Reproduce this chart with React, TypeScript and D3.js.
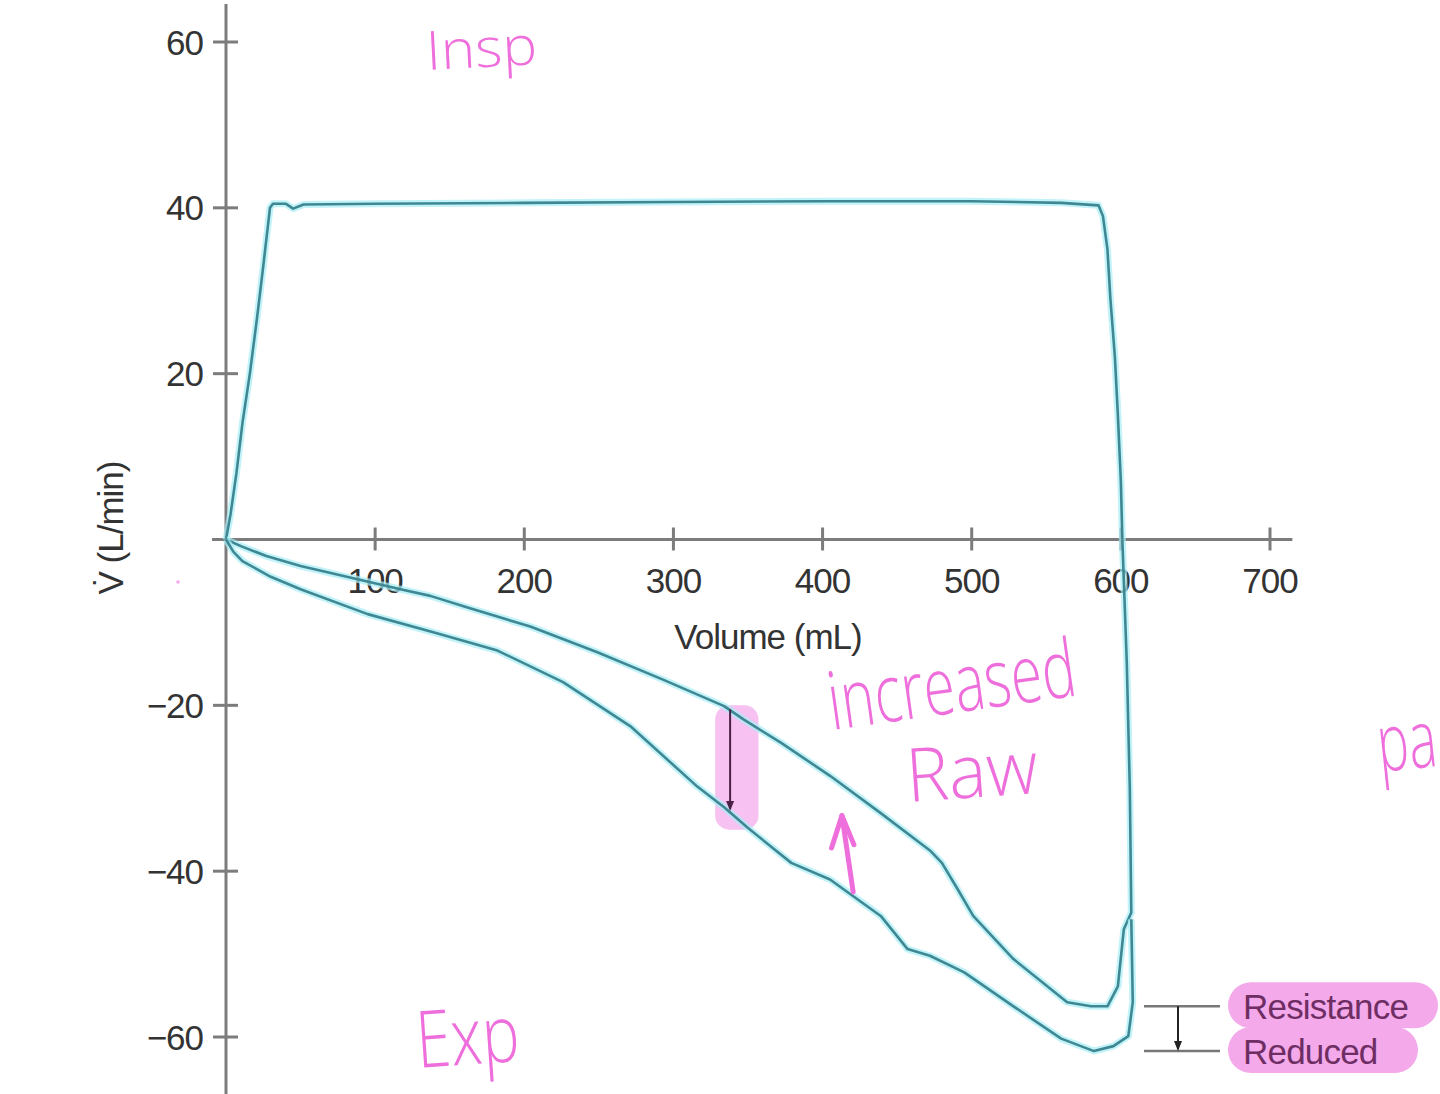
import React from "react";
import * as d3 from "d3";

const xTicks = [100, 200, 300, 400, 500, 600, 700];
const yTicks = [60, 40, 20, -20, -40, -60];

const inspVol = [0, 3, 7, 11, 16, 21, 25, 29.5, 31.5, 40, 45, 52, 100, 200, 300, 400, 500, 560, 585, 588, 591, 593, 596, 598, 600, 601];
const inspFlow = [0, 3, 8, 14, 20, 27, 33, 40, 40.5, 40.5, 39.9, 40.4, 40.5, 40.6, 40.7, 40.8, 40.8, 40.6, 40.3, 39, 35, 29, 22, 15, 7, 0];

const resVol = [0, 10, 27, 50, 81, 117, 137, 162, 204, 249, 293, 334, 347, 372, 405, 439, 472, 480, 490, 501, 528, 564, 580, 591, 598, 602, 607, 606, 604, 601];
const resFlow = [0, -0.8, -2, -3.2, -4.5, -6, -6.8, -8.2, -10.5, -13.6, -16.9, -20.1, -21.7, -24.5, -28.5, -33, -37.5, -39, -42, -45.4, -50.6, -55.8, -56.3, -56.3, -53.9, -47, -45, -30, -15, 0];

const redVol = [0, 5, 11, 30, 50, 95, 139, 182, 226, 271, 316, 334, 350, 379, 405, 439, 457, 472, 495, 528, 560, 582, 595, 605, 608, 607];
const redFlow = [0, -1.5, -2.6, -4.5, -6, -9, -11.2, -13.4, -17.2, -22.5, -29.8, -32.3, -34.8, -39, -41, -45.4, -49.4, -50.2, -52.2, -56.3, -60.2, -61.7, -61.1, -59.9, -55.8, -45.8];

const W = 1440;
const H = 1094;

export default function App() {
  const x = d3.scaleLinear().domain([0, 700]).range([226, 1270]);
  const y = d3.scaleLinear().domain([-60, 60]).range([1037, 42]);
  const line = d3.line<[number, number]>().x((d) => x(d[0])).y((d) => y(d[1]));
  const zip = (a: number[], b: number[]) => a.map((v, i) => [v, b[i]] as [number, number]);
  const curves = [zip(inspVol, inspFlow), zip(resVol, resFlow), zip(redVol, redFlow)];

  const axisColor = "#7c7c7c";
  const textColor = "#333";
  const pink = "#ee6fdc";
  const font = "'Liberation Sans', Arial, sans-serif";
  const hand = "'Open Sans', 'Noto Sans', sans-serif";

  const levelHi = -56.3;
  const levelLo = -61.7;

  return (
    <svg width={W} height={H} style={{ position: "absolute", left: 0, top: 0, background: "#fff" }}>
      <defs>
        <marker id="arrDark" viewBox="0 0 10 10" refX="8" refY="5" markerWidth="5" markerHeight="6" orient="auto">
          <path d="M0,1 L10,5 L0,9 z" fill="#4a2145" />
        </marker>
        <marker id="arrBlack" viewBox="0 0 10 10" refX="8" refY="5" markerWidth="5" markerHeight="6" orient="auto">
          <path d="M0,1 L10,5 L0,9 z" fill="#222" />
        </marker>
      </defs>
      <rect x={0} y={0} width={W} height={H} fill="#fff" />

      {/* axes */}
      <line x1={x(0)} x2={x(0)} y1={4} y2={H} stroke={axisColor} strokeWidth={3} />
      <line x1={x(0) - 14} x2={x(715)} y1={y(0)} y2={y(0)} stroke={axisColor} strokeWidth={3} />
      {yTicks.map((t) => (
        <g key={"y" + t}>
          <line x1={x(0) - 13} x2={x(0) + 12} y1={y(t)} y2={y(t)} stroke={axisColor} strokeWidth={3} />
          <text x={203} y={y(t)} dy="0.36em" textAnchor="end" fontFamily={font} fontSize={35} fill={textColor} letterSpacing={-1}>
            {t < 0 ? "\u2212" + Math.abs(t) : t}
          </text>
        </g>
      ))}
      {xTicks.map((t) => (
        <g key={"x" + t}>
          <line x1={x(t)} x2={x(t)} y1={y(0) - 12} y2={y(0) + 11} stroke={axisColor} strokeWidth={3} />
          <text x={x(t)} y={580} dy="0.36em" textAnchor="middle" fontFamily={font} fontSize={35} fill={textColor} letterSpacing={-1}>
            {t}
          </text>
        </g>
      ))}
      <text x={768} y={636} dy="0.36em" textAnchor="middle" fontFamily={font} fontSize={35} fill={textColor} letterSpacing={-1}>
        Volume (mL)
      </text>
      <text transform="translate(110,528) rotate(-90)" textAnchor="middle" dy="0.36em" fontFamily={font} fontSize={35} fill={textColor} letterSpacing={-1}>
        V̇ (L/min)
      </text>

      {/* pink highlight behind dark arrow */}
      <rect x={x(328)} y={y(-20)} width={x(357) - x(328)} height={y(-35) - y(-20)} rx={14} fill="#f6b6ef" opacity={0.85} />

      {/* curves */}
      {curves.map((c, i) => (
        <g key={"c" + i}>
          <path d={line(c) || ""} fill="none" stroke="#a6eef7" strokeWidth={7} strokeLinejoin="round" opacity={0.7} />
          <path d={line(c) || ""} fill="none" stroke="#3f8893" strokeWidth={2.6} strokeLinejoin="round" />
        </g>
      ))}

      <line x1={x(338)} x2={x(338)} y1={y(-20.5)} y2={y(-32.5)} stroke="#4a2145" strokeWidth={2} markerEnd="url(#arrDark)" />

      {/* resistance markers */}
      <line x1={1144} x2={1220} y1={y(levelHi)} y2={y(levelHi)} stroke="#777" strokeWidth={2.5} />
      <line x1={1144} x2={1220} y1={y(levelLo)} y2={y(levelLo)} stroke="#777" strokeWidth={2.5} />
      <line x1={1178} x2={1178} y1={y(levelHi)} y2={y(levelLo) - 2} stroke="#222" strokeWidth={2} markerEnd="url(#arrBlack)" />
      <rect x={1228} y={y(levelHi) - 24} width={210} height={46} rx={23} fill="#f4a9ea" />
      <rect x={1228} y={y(levelLo) - 24} width={190} height={46} rx={23} fill="#f4a9ea" />
      <text x={1243} y={y(levelHi)} dy="0.36em" fontFamily={font} fontSize={35} fill="#6e2e64" letterSpacing={-0.8}>Resistance</text>
      <text x={1243} y={y(levelLo)} dy="0.36em" fontFamily={font} fontSize={35} fill="#6e2e64" letterSpacing={-0.8}>Reduced</text>

      {/* handwritten annotations */}
      <text transform="translate(427,70) rotate(-3) scale(1.08,1.0)" fontFamily={hand} fontSize={54} fill={pink} fontWeight={300}>Insp</text>
      <text transform="translate(418,1068) rotate(-4) scale(0.95,1.2)" fontFamily={hand} fontSize={66} fill={pink} fontWeight={300}>Exp</text>
      <text transform="translate(832,730) rotate(-8) scale(0.92,1.3)" fontFamily={hand} fontSize={62} fill={pink} fontWeight={300}>increased</text>
      <text transform="translate(908,802) rotate(-4) scale(1.15,1.2)" fontFamily={hand} fontSize={62} fill={pink} fontWeight={300}>Raw</text>
      <text transform="translate(1380,772) rotate(-6) scale(0.85,1.3)" fontFamily={hand} fontSize={62} fill={pink} fontWeight={300}>pa</text>
      <path d={`M${x(420.5)},${y(-42.5)} L${x(413)},${y(-33.3)}`} stroke={pink} strokeWidth={5} strokeLinecap="round" fill="none" />
      <path d={`M${x(406)},${y(-37.2)} L${x(413)},${y(-33.3)} L${x(421)},${y(-36.8)}`} stroke={pink} strokeWidth={5} strokeLinecap="round" strokeLinejoin="round" fill="none" />
      <circle cx={178} cy={582} r={1.8} fill={pink} opacity={0.6} />
    </svg>
  );
}
